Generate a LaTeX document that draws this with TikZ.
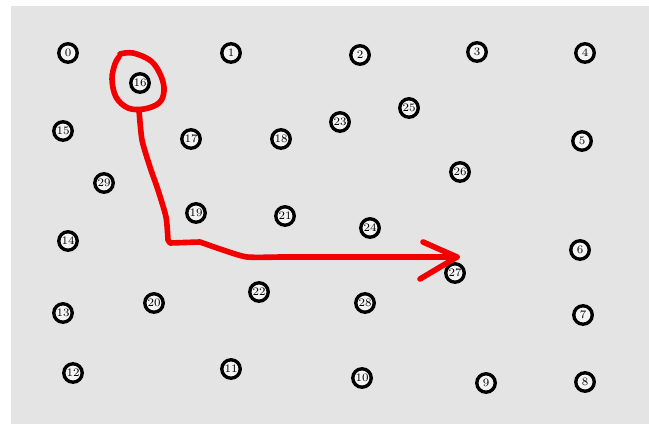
\documentclass[tikz,border=0pt]{standalone}
\usepackage{tikz}
\usetikzlibrary{calc}

\definecolor{paper}{HTML}{E4E4E4}
\definecolor{pen}{HTML}{F20000}

\begin{document}
\begin{tikzpicture}[
  x=0.02cm, y=-0.02cm,
  spot/.style={circle, draw=black, line width=1.9pt, fill=white!60!paper,
               minimum size=0.37cm, inner sep=0pt,
               font=\fontsize{6.5}{6.5}\selectfont},
  redpen/.style={draw=pen, line width=3.2pt, line cap=round, line join=round}
]

% canvas
\useasboundingbox (0,0) rectangle (649,425);
\fill[white] (0,0) rectangle (649,425);
\fill[paper] (11,6) rectangle (649,424);

% the points
\foreach \i/\px/\py in {0/68/53, 1/231/53, 2/360/55, 3/477/52, 4/585/53,
    5/582/141, 6/580/250, 7/583/315, 8/585/382, 9/486/383, 10/362/378,
    11/231/369, 12/73/373, 13/63/313, 14/68/241, 15/63/131, 16/140/83,
    17/191/139, 18/281/139, 19/196/213, 20/154/303, 21/285/216,
    22/259/292, 23/340/122, 24/370/228, 25/409/108, 26/460/172,
    27/455/273, 28/365/303, 29/104/183}
  \node[spot] (n\i) at (\px,\py) {\i};

% freehand mark: ring round 16, then down and over to 27
\coordinate (tip) at (457,257);
\draw[redpen] plot[smooth, tension=0.6] coordinates {
  (120,54) (133,53) (151,61) (161,76) (164,91) (159,103) (144,109)
  (128,108) (116,97) (112,79) (115,64) (119,57)};
\draw[redpen] plot[smooth, tension=0.4] coordinates {
  (139,110) (142,140) (150,167) (158,190) (166,217) (168,240)}
  -- (170,243) -- (200,242)
  plot[smooth, tension=0.4] coordinates {(200,242) (223,250) (247,257) (280,257)}
  -- (400,257) -- (tip);
\draw[redpen] (423,242) -- (tip) -- (420,279);
\end{tikzpicture}
\end{document}
